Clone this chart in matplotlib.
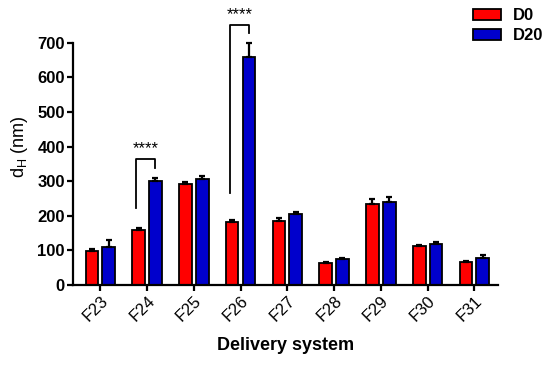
import numpy as np
import matplotlib.pyplot as plt

plt.rcParams['font.family'] = ['Liberation Sans', 'DejaVu Sans']
plt.rcParams['font.weight'] = 'bold'
plt.rcParams['axes.labelweight'] = 'bold'

# data
systems = ['F23', 'F24', 'F25', 'F26', 'F27', 'F28', 'F29', 'F30', 'F31']
d0 = [97, 160, 292, 183, 185, 64, 234, 113, 67]
d0_err = [7, 5, 7, 4, 8, 2, 15, 3, 3]
d20 = [110, 300, 307, 660, 206, 74, 239, 118, 79]
d20_err = [20, 8, 8, 40, 5, 4, 16, 5, 8]

x = np.arange(len(systems))
w = 0.27
off = 0.18

fig = plt.figure(figsize=(5.5, 3.68), dpi=100)
ax = fig.add_axes([0.133, 0.2255, 0.772, 0.752])

ax.bar(x - off, d0, w, color='#ff0000', edgecolor='black', linewidth=1.3,
       yerr=[np.zeros(len(d0)), d0_err], error_kw=dict(elinewidth=1.6, capsize=2.5, capthick=1.6),
       label='D0', zorder=2)
ax.bar(x + off, d20, w, color='#0000cc', edgecolor='black', linewidth=1.3,
       yerr=[np.zeros(len(d20)), d20_err], error_kw=dict(elinewidth=1.6, capsize=2.5, capthick=1.6),
       label='D20', zorder=2)

# significance brackets
def bracket(i, y_left, y_top, y_right):
    xl = i - off - 0.05
    xr = i + off
    ax.plot([xl, xl, xr, xr], [y_left, y_top, y_top, y_right], color='black', lw=1.3, clip_on=False)
    ax.text((xl + xr) / 2, y_top + 8, '****', ha='center', va='bottom', fontsize=12, weight='normal')

bracket(1, 222, 364, 338)
bracket(3, 266, 751, 728)

ax.set_xlim(-0.58, 8.5)
ax.set_ylim(0, 800)
ax.set_yticks(range(0, 701, 100))
ax.spines['left'].set_bounds(0, 700)
ax.spines['top'].set_visible(False)
ax.spines['right'].set_visible(False)
for s in ['left', 'bottom']:
    ax.spines[s].set_linewidth(1.6)
ax.tick_params(width=1.6, length=4, labelsize=12, pad=2)
ax.set_xticks(x)
ax.set_xticklabels(systems, rotation=45, ha='right', rotation_mode='anchor', weight='normal')

ax.set_ylabel(r'd$_{\mathregular{H}}$ (nm)', fontsize=13, weight='normal', labelpad=5)
ax.set_xlabel('Delivery system', fontsize=13, labelpad=9)

fig.legend(loc='upper left', bbox_to_anchor=(0.845, 1.0), frameon=False, fontsize=12,
           borderpad=0, handlelength=1.7, handleheight=0.65, handletextpad=0.7, labelspacing=0.3)

fig.savefig('out.png', dpi=100)
